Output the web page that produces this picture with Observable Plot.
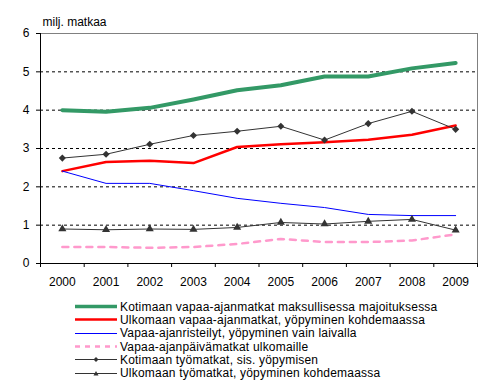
<!DOCTYPE html>
<html><head><meta charset="utf-8">
<script src="https://cdn.jsdelivr.net/npm/d3@7"></script>
<script src="https://cdn.jsdelivr.net/npm/@observablehq/plot@0.6"></script>
<style>
body{margin:0;background:#fff;font-family:"Liberation Sans",Arial,sans-serif;}
#legend{margin-left:75px;margin-top:8px;font-size:12px;letter-spacing:0.2px;color:#000;}
.row{display:flex;align-items:center;height:13.33px;white-space:nowrap;}
.row svg{margin-right:3px;flex:none}
</style></head><body><div id="chart"></div><div id="legend"></div>
<script>
const years = [2000,2001,2002,2003,2004,2005,2006,2007,2008,2009];
const kotimaanVapaa = [4.00,3.96,4.06,4.28,4.52,4.65,4.88,4.88,5.09,5.23];
const ulkomaanVapaa = [2.41,2.65,2.68,2.62,3.04,3.11,3.16,3.23,3.36,3.60];
const risteilyt = [2.41,2.09,2.09,1.90,1.70,1.57,1.46,1.28,1.25,1.25];
const paivamatkat = [0.43,0.43,0.41,0.43,0.51,0.64,0.56,0.56,0.60,0.76];
const kotimaanTyo = [2.75,2.85,3.11,3.34,3.45,3.58,3.22,3.65,3.97,3.50];
const ulkomaanTyo = [0.90,0.88,0.90,0.89,0.94,1.07,1.03,1.10,1.15,0.87];
const yTicks = [0,1,2,3,4,5,6];
const seriesNames = [
  "Kotimaan vapaa-ajanmatkat maksullisessa majoituksessa",
  "Ulkomaan vapaa-ajanmatkat, yöpyminen kohdemaassa",
  "Vapaa-ajanristeilyt, yöpyminen vain laivalla",
  "Vapaa-ajanpäivämatkat ulkomaille",
  "Kotimaan työmatkat, sis. yöpymisen",
  "Ulkomaan työmatkat, yöpyminen kohdemaassa"
];
const yLabel = "milj. matkaa";

const styles = [
  {stroke:"#339966", strokeWidth:4},
  {stroke:"#ff0000", strokeWidth:2.5},
  {stroke:"#0000ff", strokeWidth:1},
  {stroke:"#ff99cc", strokeWidth:2.5, strokeDasharray:"6,6"},
  {stroke:"#333333", strokeWidth:1, symbol:"diamond2", r:3.2},
  {stroke:"#333333", strokeWidth:1, symbol:"triangle", r:3.0}
];
const seriesValues = [kotimaanVapaa, ulkomaanVapaa, risteilyt, paivamatkat, kotimaanTyo, ulkomaanTyo];
const rows = seriesValues.map((vals, i) => years.map((y, j) => ({year: y, value: vals[j], s: i})));
const boundaries = [years[0] - 0.5, ...years.map(y => y + 0.5)];
const xDomain = [boundaries[0], boundaries[boundaries.length - 1]];

const lineMarks = [];
rows.forEach((data, i) => {
  const st = styles[i];
  lineMarks.push(Plot.line(data, {x:"year", y:"value", stroke:st.stroke, strokeWidth:st.strokeWidth,
    strokeDasharray:st.strokeDasharray, curve:"linear"}));
  if (st.symbol) lineMarks.push(Plot.dot(data, {x:"year", y:"value", symbol:st.symbol, r:st.r, fill:st.stroke, stroke:"none"}));
});

const chart = Plot.plot({
  width:490, height:292, marginTop:33, marginBottom:29, marginLeft:40, marginRight:13,
  x:{domain:xDomain}, y:{domain:[yTicks[0], yTicks[yTicks.length-1]]},
  style:{fontFamily:"'Liberation Sans', Arial, sans-serif", fontSize:"12px", color:"#000", background:"#fff"},
  marks:[
    Plot.ruleY(yTicks.slice(1, -1), {stroke:"#000", strokeDasharray:"3,3", strokeWidth:1}),
    Plot.ruleY([yTicks[yTicks.length-1]], {stroke:"#808080"}),
    Plot.ruleX([xDomain[1]], {stroke:"#808080"}),
    Plot.ruleX([xDomain[0]], {stroke:"#000"}),
    Plot.ruleY([yTicks[0]], {stroke:"#000"}),
    Plot.axisY({ticks:yTicks, tickSize:4, tickPadding:7, tickFormat:d=>String(d), label:null, stroke:"#000", strokeOpacity:1}),
    Plot.axisX({ticks:boundaries, tickSize:4, tickFormat:()=>"", label:null, strokeOpacity:1}),
    Plot.axisX({ticks:years, tickSize:0, tickPadding:14, tickFormat:d=>String(d), label:null}),
    ...lineMarks,
    Plot.text([yLabel], {frameAnchor:"top-left", text:d=>d, dx:2, dy:-16, textAnchor:"start", fontSize:12, fill:"#000", style:"letter-spacing:0.5px"})
  ]
});
document.getElementById("chart").appendChild(chart);

const legend = document.getElementById("legend");
seriesNames.forEach((name, i) => {
  const st = styles[i];
  const row = document.createElement("div");
  row.className = "row";
  let marker = "";
  if (st.symbol === "diamond2") marker = `<path d="M21,4 L23.5,6.5 L21,9 L18.5,6.5Z" fill="${st.stroke}"/>`;
  if (st.symbol === "triangle") marker = `<path d="M21,4 L23.5,8.5 L18.5,8.5Z" fill="${st.stroke}"/>`;
  row.innerHTML = `<svg width="42" height="13"><line x1="0" x2="42" y1="6.5" y2="6.5" stroke="${st.stroke}" stroke-width="${Math.min(st.strokeWidth,3.5)}" ${st.strokeDasharray ? `stroke-dasharray="5,5"` : ""}/>${marker}</svg><span>${name}</span>`;
  legend.appendChild(row);
});
</script></body></html>
